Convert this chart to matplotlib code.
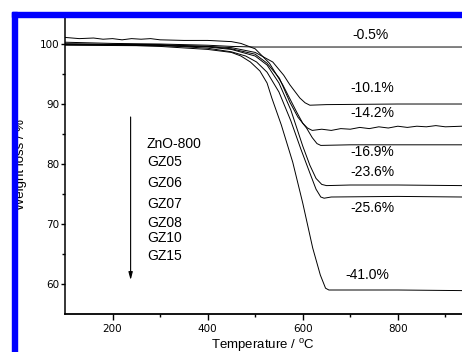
import numpy as np
import matplotlib
matplotlib.use('Agg')
from matplotlib import pyplot as plt
from matplotlib.patches import Rectangle

# TGA curves: (temperature, weight %)
znO800_t = [100, 200, 300, 400, 450, 500, 600, 700, 800, 935]
znO800_w = [100.3, 100.1, 100.0, 99.8, 99.6, 99.5, 99.5, 99.5, 99.5, 99.5]

gz05_t = [100, 300, 400, 450, 500, 537, 560, 573, 594, 605, 615, 650, 800, 935]
gz05_w = [99.8, 99.7, 99.6, 99.4, 98.6, 97.0, 94.8, 93.2, 91.0, 90.2, 89.8, 89.9, 90.0, 90.0]

gz06_t = [100, 130, 160, 180, 200, 220, 240, 260, 280, 300, 350, 400, 450, 470, 500,
          530, 558, 587, 600, 610, 620, 640, 660, 680, 700, 720, 740, 760, 780, 800,
          820, 840, 860, 880, 900, 935]
gz06_w = [101.1, 100.9, 101.0, 100.8, 100.9, 100.7, 100.9, 100.8, 100.9, 100.7, 100.6,
          100.6, 100.4, 100.1, 99.2, 96.8, 93.2, 88.7, 86.8, 86.0, 85.6, 85.8, 85.6,
          85.9, 85.8, 86.1, 85.9, 86.2, 86.0, 86.3, 86.1, 86.3, 86.2, 86.4, 86.2, 86.3]

gz07_t = [100, 300, 400, 450, 500, 525, 551, 573, 590, 608, 620, 630, 638, 700, 800, 935]
gz07_w = [100.0, 99.9, 99.6, 99.2, 98.3, 96.8, 94.3, 90.3, 87.8, 86.0, 84.4, 83.4, 83.1,
          83.2, 83.2, 83.2]

gz08_t = [100, 300, 400, 450, 500, 525, 550, 575, 600, 615, 628, 640, 650, 700, 800, 935]
gz08_w = [99.9, 99.8, 99.5, 99.1, 98.0, 96.5, 93.5, 89.0, 83.0, 79.8, 77.6, 76.6, 76.4,
          76.5, 76.5, 76.4]

gz10_t = [100, 300, 400, 450, 480, 503, 525, 550, 575, 596, 615, 628, 638, 645, 660, 800, 935]
gz10_w = [100.0, 99.8, 99.3, 98.7, 98.0, 97.0, 95.3, 92.0, 87.2, 82.5, 78.5, 75.8, 74.5,
          74.3, 74.5, 74.6, 74.5]

gz15_t = [100, 200, 300, 400, 450, 470, 490, 510, 525, 535, 555, 579, 600, 621, 637,
          648, 655, 700, 800, 935]
gz15_w = [100.0, 99.9, 99.6, 99.1, 98.6, 98.0, 97.0, 95.5, 93.5, 91.0, 86.5, 80.3, 73.5,
          66.0, 61.5, 59.3, 59.0, 59.0, 59.0, 58.9]

samples = ['ZnO-800', 'GZ05', 'GZ06', 'GZ07', 'GZ08', 'GZ10', 'GZ15']
sample_y = [83.3, 80.3, 76.8, 73.3, 70.2, 67.7, 64.7]

losses = ['-0.5%', '-10.1%', '-14.2%', '-16.9%', '-23.6%', '-25.6%', '-41.0%']
loss_x = [743, 747, 747, 747, 747, 747, 735]
loss_y = [101.5, 92.7, 88.5, 82.0, 78.7, 72.7, 61.5]

fig = plt.figure(figsize=(4.62, 3.52), dpi=100)
W, H = 462.0, 352.0
ax = fig.add_axes([65 / W, (H - 314) / H, 1 - 65 / W, (314 - 16) / H])

for t, w in [(znO800_t, znO800_w), (gz05_t, gz05_w), (gz06_t, gz06_w), (gz07_t, gz07_w),
             (gz08_t, gz08_w), (gz10_t, gz10_w), (gz15_t, gz15_w)]:
    ax.plot(t, w, color='black', lw=0.7)

ax.set_xlim(100, 935)
ax.set_ylim(55, 104.67)
ax.set_xticks([200, 400, 600, 800])
ax.set_xticks([300, 500, 700, 900], minor=True)
ax.set_yticks([60, 70, 80, 90, 100])
ax.set_yticks([65, 75, 85, 95], minor=True)
ax.spines['top'].set_visible(False)
ax.spines['right'].set_visible(False)
ax.spines['left'].set_linewidth(1.1)
ax.spines['bottom'].set_linewidth(1.3)
ax.tick_params(axis='x', which='major', length=4, width=1, pad=3, labelsize=7.5)
ax.tick_params(axis='y', which='major', length=3, width=1, pad=1, labelsize=7.5)
ax.tick_params(which='minor', length=2.2, width=1)
for lab in ax.get_xticklabels() + ax.get_yticklabels():
    lab.set_family('DejaVu Sans')

for name, y in zip(samples, sample_y):
    ax.text(272, y, name, fontsize=10, family='Liberation Sans', va='center', ha='left')
ax.annotate('', xy=(238, 60.2), xytext=(238, 88.3),
            arrowprops=dict(arrowstyle='-|>,head_length=0.45,head_width=0.12', color='black', lw=0.8))

for txt, x, y in zip(losses, loss_x, loss_y):
    ax.text(x, y, txt, fontsize=10, family='Liberation Sans', ha='center', va='center')

fig.text(27 / W, 1 - 165 / H, 'Weight loss / %', rotation=90, ha='right', va='center',
         fontsize=9.5, family='Liberation Sans')
fig.text(263 / W, (H - 337) / H, r'Temperature / $^\mathregular{o}$C', ha='center', va='top',
         fontsize=9.5, family='Liberation Sans')

# blue frame pieces at the top and left edge
fig.patches.append(Rectangle((12 / W, 1 - 17 / H), 1, 5 / H, transform=fig.transFigure,
                             color='#0000ff', zorder=5))
fig.patches.append(Rectangle((12 / W, 0), 4.5 / W, 1 - 12 / H, transform=fig.transFigure,
                             color='#0000ff', zorder=5))

fig.savefig('out.png', dpi=100)
